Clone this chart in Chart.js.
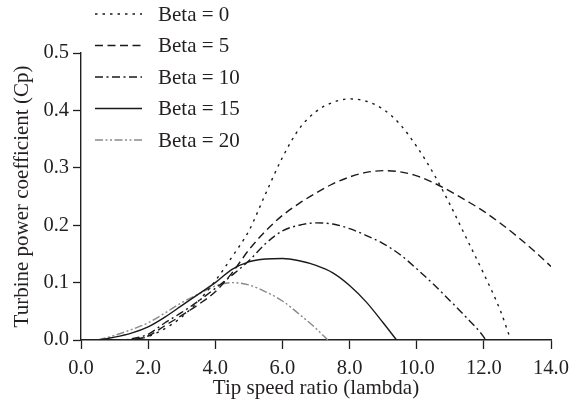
<!DOCTYPE html>
<html lang="en">
<head>
  <meta charset="utf-8" />
  <title>Turbine power coefficient</title>
  <script src="https://cdn.jsdelivr.net/npm/chart.js"></script>
  <style>
    body { margin: 0; background: #fff; }
    #wrap { width: 581px; height: 404px; }
  </style>
</head>
<body>
  <div id="wrap"><canvas id="cpChart" width="581" height="404"></canvas></div>

  <script>
    // values
    const betaLabels = ['Beta = 0', 'Beta = 5', 'Beta = 10', 'Beta = 15', 'Beta = 20'];

    const lambda0  = [0.5, 1, 1.5, 2, 2.5, 3, 3.5, 4, 4.5, 5, 5.5, 6, 6.5, 7, 7.5, 8, 8.5, 9, 9.5, 10, 10.5, 11, 11.5, 12, 12.5, 12.8];
    const cpBeta0  = [0, -0.003, 0, 0.006, 0.02, 0.04, 0.068, 0.103, 0.145, 0.19, 0.255, 0.318, 0.368, 0.398, 0.414, 0.42, 0.416, 0.402, 0.376, 0.337, 0.29, 0.235, 0.175, 0.115, 0.05, 0];

    const lambda5  = [0.5, 1, 1.5, 2, 2.5, 3, 3.5, 4, 4.5, 5, 5.5, 6, 6.5, 7, 7.5, 8, 8.5, 9, 9.5, 10, 10.5, 11, 11.5, 12, 12.5, 13, 13.5, 14];
    const cpBeta5  = [0, -0.002, 0, 0.007, 0.025, 0.043, 0.062, 0.084, 0.117, 0.157, 0.19, 0.217, 0.238, 0.256, 0.272, 0.284, 0.292, 0.295, 0.293, 0.286, 0.274, 0.259, 0.242, 0.224, 0.203, 0.18, 0.155, 0.128];

    const lambda10 = [0.5, 1, 1.5, 2, 2.5, 3, 3.5, 4, 4.5, 5, 5.5, 6, 6.5, 7, 7.5, 8, 8.5, 9, 9.5, 10, 10.5, 11, 11.5, 12, 12.05];
    const cpBeta10 = [0, -0.001, 0.002, 0.01, 0.03, 0.048, 0.068, 0.09, 0.113, 0.138, 0.168, 0.19, 0.2, 0.204, 0.202, 0.194, 0.182, 0.168, 0.149, 0.124, 0.097, 0.068, 0.038, 0.005, 0];

    const lambda15 = [0.5, 1, 1.5, 2, 2.5, 3, 3.5, 4, 4.5, 5, 5.5, 6, 6.5, 7, 7.5, 8, 8.5, 9, 9.4];
    const cpBeta15 = [0, 0.005, 0.012, 0.023, 0.04, 0.06, 0.08, 0.1, 0.123, 0.136, 0.141, 0.142, 0.138, 0.13, 0.117, 0.095, 0.066, 0.03, 0];

    const lambda20 = [0.5, 1, 1.5, 2, 2.5, 3, 3.5, 4, 4.5, 5, 5.5, 6, 6.5, 7, 7.35];
    const cpBeta20 = [0, 0.008, 0.018, 0.03, 0.047, 0.065, 0.08, 0.094, 0.1, 0.096, 0.084, 0.068, 0.045, 0.02, 0];

    const xTicks = [0, 2, 4, 6, 8, 10, 12, 14];
    const yTicks = [0, 0.1, 0.2, 0.3, 0.4, 0.5];

    const serif = '"Liberation Serif", "Times New Roman", serif';
    const ink = '#231f20';

    const pts = (xs, ys) => xs.map((x, i) => ({ x: x, y: ys[i] }));

    function line(label, data, color, dash) {
      return {
        label: label,
        data: data,
        borderColor: color,
        borderWidth: 1.4,
        borderDash: dash,
        pointRadius: 0,
        fill: false,
        cubicInterpolationMode: 'monotone'
      };
    }

    // legend sits over the top-left of the plot, so draw it ourselves
    const cornerLegend = {
      id: 'cornerLegend',
      afterDraw(chart) {
        const ctx = chart.ctx;
        chart.data.datasets.forEach((ds, i) => {
          const y = 14 + i * 31.5;
          ctx.save();
          ctx.strokeStyle = ds.borderColor;
          ctx.lineWidth = ds.borderWidth;
          ctx.setLineDash(ds.borderDash);
          ctx.beginPath();
          ctx.moveTo(95, y);
          ctx.lineTo(142, y);
          ctx.stroke();
          ctx.setLineDash([]);
          ctx.fillStyle = ink;
          ctx.font = '21px ' + serif;
          ctx.textBaseline = 'middle';
          ctx.fillText(ds.label, 158, y + 1);
          ctx.restore();
        });
      }
    };

    const ctx = document.getElementById('cpChart').getContext('2d');
    new Chart(ctx, {
      type: 'line',
      data: {
        datasets: [
          line(betaLabels[0], pts(lambda0, cpBeta0), '#1a1a1a', [2.5, 5]),
          line(betaLabels[1], pts(lambda5, cpBeta5), '#1a1a1a', [8, 4.5]),
          line(betaLabels[2], pts(lambda10, cpBeta10), '#1a1a1a', [8, 3.5, 2, 3.5]),
          line(betaLabels[3], pts(lambda15, cpBeta15), '#1a1a1a', []),
          line(betaLabels[4], pts(lambda20, cpBeta20), '#8a8a8a', [8, 2.5, 2, 2.5, 2, 2.5])
        ]
      },
      options: {
        responsive: false,
        animation: false,
        layout: { padding: { top: 53, right: 30, left: 0, bottom: 0 } },
        plugins: {
          legend: { display: false },
          tooltip: { enabled: false }
        },
        scales: {
          x: {
            type: 'linear',
            min: 0,
            max: 14,
            afterBuildTicks: s => { s.ticks = xTicks.map(v => ({ value: v })); },
            afterFit: s => { s.height = 64; },
            grid: { drawOnChartArea: false, drawTicks: true, tickLength: 9, tickWidth: 1.3, color: ink },
            border: { color: ink, width: 1.4 },
            ticks: {
              color: ink,
              padding: 7,
              font: { family: serif, size: 20.5 },
              callback: v => v.toFixed(1)
            },
            title: {
              display: true,
              text: 'Tip speed ratio (lambda)',
              color: ink,
              font: { family: serif, size: 21 },
              padding: { top: 0, bottom: 3 }
            }
          },
          y: {
            min: 0,
            max: 0.5,
            afterBuildTicks: s => { s.ticks = yTicks.map(v => ({ value: v })); },
            afterFit: s => { s.width = 81; },
            grid: { drawOnChartArea: false, drawTicks: true, tickLength: 8, tickWidth: 1.3, color: ink },
            border: { color: ink, width: 1.4 },
            ticks: {
              color: ink,
              padding: 4,
              font: { family: serif, size: 20.5 },
              callback: v => v.toFixed(1)
            },
            title: {
              display: true,
              text: 'Turbine power coefficient (Cp)',
              color: ink,
              font: { family: serif, size: 21 },
              padding: { top: 10, bottom: 0 }
            }
          }
        }
      },
      plugins: [cornerLegend]
    });
  </script>
</body>
</html>
